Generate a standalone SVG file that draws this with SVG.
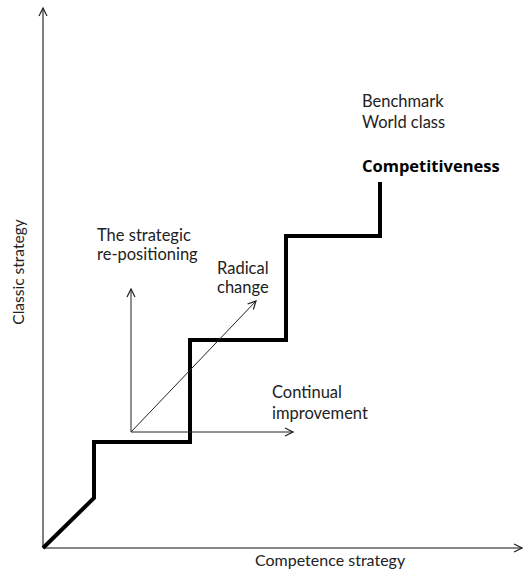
<svg xmlns="http://www.w3.org/2000/svg" width="525" height="576" viewBox="0 0 525 576">
  <style>
    text { font-family: Lato, "Open Sans", "Liberation Sans", sans-serif; font-size: 16.5px; fill: #222; }
    .axis-label { font-size: 16px; }
    .bold { font-family: "Open Sans", Lato, sans-serif; font-weight: bold; fill: #000; font-size: 16.5px; }
    .thin { stroke: #222; stroke-width: 1; fill: none; }
    .step { stroke: #000; stroke-width: 4; fill: none; stroke-linejoin: miter; }
  </style>
  <defs>
    <marker id="open" viewBox="0 0 10 10" refX="9" refY="5" markerWidth="10" markerHeight="10" markerUnits="userSpaceOnUse" orient="auto">
      <path d="M1,1 L9,5 L1,9" fill="none" stroke="#222" stroke-width="1.2"/>
    </marker>
  </defs>
  <rect width="525" height="576" fill="#fff"/>

  <g id="axes">
    <line x1="43" y1="548" x2="43" y2="8" stroke="#808080" stroke-width="2" marker-end="url(#open)"/>
    <line x1="43" y1="548" x2="522" y2="548" stroke="#111" stroke-width="1.2" marker-end="url(#open)"/>
    <text class="axis-label" x="255" y="566">Competence strategy</text>
    <text class="axis-label" transform="translate(24,272) rotate(-90)" text-anchor="middle" style="font-size:15.5px">Classic strategy</text>
  </g>

  <g id="staircase">
    <polyline class="step" points="43,548 94,498 94,442 190,442 190,340 286,340 286,236 380,236 380,182"/>
  </g>

  <g id="connectors">
    <line class="thin" x1="131" y1="432" x2="131" y2="289" marker-end="url(#open)"/>
    <line class="thin" x1="131" y1="432" x2="293" y2="432" marker-end="url(#open)"/>
    <line class="thin" x1="131" y1="432" x2="256" y2="301" marker-end="url(#open)"/>
  </g>

  <g id="label-repositioning">
    <text x="97" y="241">The strategic</text>
    <text x="97" y="260">re-positioning</text>
  </g>
  <g id="label-radical">
    <text x="217" y="274">Radical</text>
    <text x="217" y="293">change</text>
  </g>
  <g id="label-continual">
    <text x="272" y="398">Continual</text>
    <text x="272" y="419">improvement</text>
  </g>
  <g id="label-benchmark">
    <text x="362" y="107">Benchmark</text>
    <text x="362" y="128">World class</text>
    <text class="bold" x="362" y="172">Competitiveness</text>
  </g>
</svg>
